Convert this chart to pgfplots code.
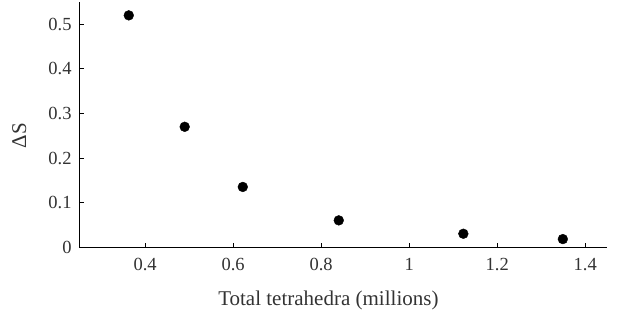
\documentclass[border=0pt]{standalone}
\usepackage{fontspec}
\setmainfont{Liberation Serif}
\usepackage{pgfplots}
\pgfplotsset{compat=1.18}
\definecolor{txt}{HTML}{333333}
\begin{document}
\begin{tikzpicture}
\begin{axis}[
  scale only axis,
  width=528bp, height=245bp,
  xmin=0.25, xmax=1.45, ymin=0, ymax=0.55,
  axis lines=left,
  axis line style={-, black, line width=0.9bp},
  tick style={black, line width=0.8bp},
  major tick length=4.5bp,
  tick align=inside,
  xtick={0.4,0.6,0.8,1,1.2,1.4},
  ytick={0,0.1,0.2,0.3,0.4,0.5},
  /pgf/number format/assume math mode=true,
  ticklabel style={font=\fontsize{18.5bp}{21bp}\selectfont, text=txt},
  xticklabel style={yshift=-8bp},
  yticklabel style={xshift=-4bp},
  xlabel={Total tetrahedra (millions)},
  ylabel={ΔS},
  label style={text=txt, font=\fontsize{21bp}{24bp}\selectfont},
  xlabel style={at={(rel axis cs:0.472,0)}, anchor=base, yshift=-58bp},
  ylabel style={at={(rel axis cs:-0.093,0.455)}, anchor=south},
  clip=false,
]
\addplot[only marks, mark=*, mark size=4.9bp, black] coordinates {
  (0.363,0.520) (0.490,0.270) (0.622,0.135) (0.840,0.060) (1.123,0.030) (1.349,0.018)
};
\end{axis}
\path ([xshift=-79bp,yshift=-69bp]current axis.south west) rectangle ([xshift=9.7bp,yshift=2bp]current axis.north east);
\end{tikzpicture}
\end{document}
